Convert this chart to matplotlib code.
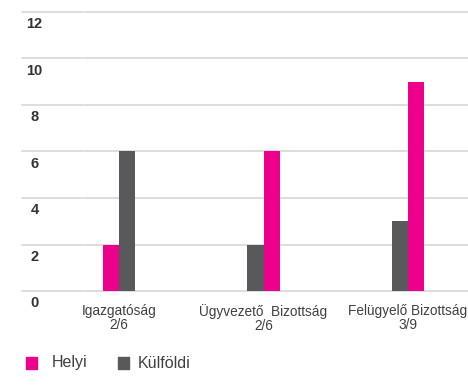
import numpy as np
import matplotlib.pyplot as plt

# data
categories = ['Igazgatóság\n2/6', 'Ügyvezető  Bizottság\n2/6', 'Felügyelő Bizottság\n3/9']
helyi = [2, 6, 9]
kulfoldi = [6, 2, 3]
helyi_left = [True, False, False]   # which bar stands on the left in each group
yticks = [0, 2, 4, 6, 8, 10, 12]

pink = '#ec008c'
grey = '#58595b'
txt = '#404040'

plt.rcParams['font.family'] = ['Liberation Sans', 'DejaVu Sans']

fig = plt.figure(figsize=(4.68, 3.92), dpi=100)
ax = fig.add_axes([22 / 468, 101 / 392, 446 / 468, 279 / 392])
ax.set_ylim(0, 12)
xl = (22 - 119) / 144.5
ax.set_xlim(xl, (468 - 119) / 144.5)
for s in ax.spines.values():
    s.set_visible(False)
ax.set_xticks([])
ax.set_yticks([])

# grid lines, with the small break after the label column
gap = (83 - 119) / 144.5
for y in yticks:
    ax.plot([xl, gap - 0.008], [y, y], color='#d3d3d3', lw=1.1, clip_on=False, zorder=0)
    ax.plot([gap + 0.008, 3], [y, y], color='#d3d3d3', lw=1.1, clip_on=False, zorder=0)
    ax.text(0.028, y - 0.22, str(y), transform=ax.get_yaxis_transform(),
            ha='center', va='top', fontsize=10.5, fontweight='bold', color='#333333')

x = np.arange(len(categories))
w = 0.111
for i in range(len(categories)):
    hs = -1 if helyi_left[i] else 1
    ax.bar(x[i] + hs * w / 2, helyi[i], width=w, color=pink, zorder=2)
    ax.bar(x[i] - hs * w / 2, kulfoldi[i], width=w, color=grey, zorder=2)

for i, c in enumerate(categories):
    ax.text(x[i], -0.55, c, ha='center', va='top', fontsize=9.8, color=txt,
            linespacing=1.05)

# legend
fig.patches.append(plt.Rectangle((26 / 468, 1 - 369 / 392), 11 / 468, 12 / 392,
                                 transform=fig.transFigure, color=pink))
fig.text(52 / 468, 1 - 363 / 392, 'Helyi', va='center', fontsize=11.5, color=txt)
fig.patches.append(plt.Rectangle((118 / 468, 1 - 369 / 392), 11 / 468, 12 / 392,
                                 transform=fig.transFigure, color=grey))
fig.text(138 / 468, 1 - 363 / 392, 'Külföldi', va='center', fontsize=11.5, color=txt)

fig.savefig('out.png', dpi=100)
